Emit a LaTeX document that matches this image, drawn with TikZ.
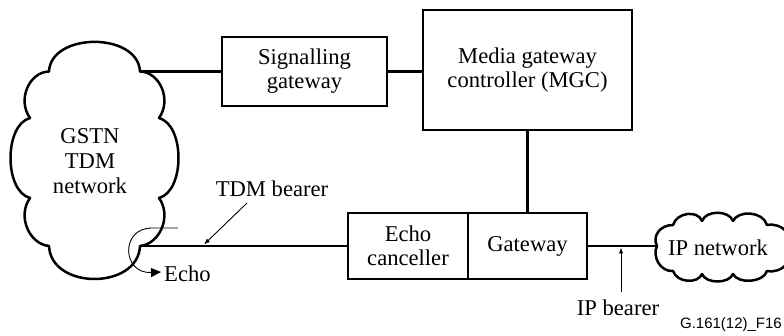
\documentclass[tikz,border=0pt]{standalone}
\usepackage{fontspec}
\setmainfont{Liberation Serif}
\newfontfamily\labelsans{Liberation Sans}
\usetikzlibrary{arrows.meta}
\begin{document}
\begin{tikzpicture}[x=1pt,y=-1pt,
  thickline/.style={line width=2.5pt, line join=round},
  thinline/.style={line width=0.9pt},
  unit/.style={draw, line width=2.5pt, inner sep=0pt, align=center,
    font=\fontsize{22.6}{24}\selectfont},
  lbl/.style={inner sep=0pt, align=center, font=\fontsize{22.6}{25}\selectfont},
  pointer/.style={thinline, -{Latex[length=6pt,width=4.5pt]}}
]
\useasboundingbox (0,0) rectangle (784,336);

% --- GSTN cloud: notch points between the scallops
\coordinate (g1) at (49,71.5);
\coordinate (g2) at (140,71.5);
\coordinate (g3) at (159,118);
\coordinate (g4) at (159,198);
\coordinate (g5) at (140,246);
\coordinate (g6) at (49,246);
\coordinate (g7) at (30,198);
\coordinate (g8) at (30,118);
\draw[thickline] (g1)
  .. controls (51,32) and (138,32) .. (g2)
  .. controls (160,72) and (172,100) .. (g3)
  .. controls (185,125) and (185,191) .. (g4)
  .. controls (172,216) and (160,244) .. (g5)
  .. controls (138,290) and (51,290) .. (g6)
  .. controls (29,244) and (17,216) .. (g7)
  .. controls (4,191) and (4,125) .. (g8)
  .. controls (17,100) and (29,72) .. (g1) -- cycle;
\node[lbl] (gstn) at (90,161) {GSTN\\TDM\\network};

% --- IP cloud
\coordinate (p0) at (657,246);
\coordinate (p1) at (673,225);
\coordinate (p2) at (702,221);
\coordinate (p3) at (733,221);
\coordinate (p4) at (767,225);
\coordinate (p5) at (767,271);
\coordinate (p6) at (733,274);
\coordinate (p7) at (702,274);
\coordinate (p8) at (673,271);
\draw[thickline] (p0)
  .. controls (652,236) and (660,225) .. (p1)
  .. controls (677,212) and (698,210) .. (p2)
  .. controls (706,210) and (729,210) .. (p3)
  .. controls (738,210) and (763,211) .. (p4)
  .. controls (800,220) and (800,276) .. (p5)
  .. controls (763,283) and (738,284) .. (p6)
  .. controls (729,284) and (706,284) .. (p7)
  .. controls (698,284) and (677,283) .. (p8)
  .. controls (660,272) and (652,256) .. (p0) -- cycle;
\node[lbl, anchor=base] (ipnet) at (718,256) {IP network};

% --- boxes
\node[unit, minimum width=165pt, minimum height=69pt] (sg) at (304.5,71.5) {Signalling\\gateway};
\node[unit, minimum width=209pt, minimum height=120pt] (mgc) at (527.5,70) {Media gateway\\controller (MGC)};
\node[unit, minimum width=120pt, minimum height=66pt] (ec) at (408,246) {Echo\\canceller};
\node[unit, minimum width=119pt, minimum height=66pt] (gw) at (527.5,246) {Gateway};

% --- connectors
\draw[thickline] (g2) -- (sg.west);
\draw[thickline] (sg.east) -- (sg.east -| mgc.west);
\draw[thickline] (mgc.south) -- (gw.north);
\draw[thickline] (g5) -- (ec.west);
\draw[thickline] (gw.east) -- (p0);

% --- bearer labels
\node[lbl, anchor=base] (tdmlbl) at (272,197) {TDM bearer};
\coordinate (tdmfrom) at (247,203);
\coordinate (tdmto) at (204,244.5);
\draw[pointer] (tdmfrom) -- (tdmto);

\node[lbl, anchor=base] (iplbl) at (618,316) {IP bearer};
\coordinate (ipfrom) at (621,292);
\coordinate (ipto) at (621,247.5);
\draw[pointer] (ipfrom) -- (ipto);

% --- echo path
\coordinate (echoa) at (178,228);
\coordinate (echob) at (152,228);
\coordinate (echotip) at (161,272);
\draw[thinline, -{Triangle[length=10pt,width=9pt]}] (echoa) -- (echob)
  .. controls (120,228) and (122,274) .. (echotip);
\node[lbl, anchor=base west] (echo) at (164,282) {Echo};

% --- figure id
\node[anchor=base east, inner sep=0pt, font=\labelsans\fontsize{15}{17}\selectfont]
  (figid) at (782,329) {G.161(12)\_F16};
\end{tikzpicture}
\end{document}
